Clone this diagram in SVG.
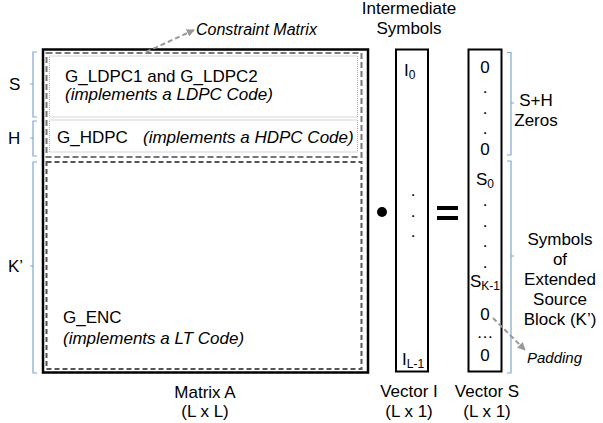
<svg xmlns="http://www.w3.org/2000/svg" width="603" height="423" viewBox="0 0 603 423">
<style>
text{font-family:"Liberation Sans",Arial,sans-serif;font-size:17px;fill:#000}
.it{font-style:italic}
.c{text-anchor:middle}
.sub{font-size:12px}
.br{fill:none;stroke:#7ea6d6;stroke-width:1.2}
.dotted{fill:none;stroke:#aaa;stroke-width:1;stroke-dasharray:1 1}
.vec{fill:#fff;stroke:#000;stroke-width:2}
.lead{fill:none;stroke:#999;stroke-width:2;stroke-dasharray:5 3}
</style>
<defs>
<marker id="ah" viewBox="0 0 10 10" refX="9" refY="5" markerWidth="4" markerHeight="4" orient="auto"><path d="M0,0 L10,5 L0,10 z" fill="#999"/></marker>
</defs>
<rect width="603" height="423" fill="#fff"/>

<g id="matrixA">
<rect x="43" y="49.5" width="325" height="323" fill="#fff" stroke="#000" stroke-width="2.5"/>
<text class="c" x="205" y="398">Matrix A</text>
<text class="c" x="205" y="417">(L x L)</text>
</g>

<g id="constraint">
<rect x="46.5" y="53" width="315" height="104" fill="none" stroke="#777" stroke-width="2" stroke-dasharray="6 3"/>
<rect class="dotted" x="49.5" y="56" width="308" height="61"/>
<rect class="dotted" x="49.5" y="120" width="308" height="32"/>
<text x="65" y="82">G_LDPC1 and G_LDPC2</text>
<text class="it" x="65" y="100">(implements a LDPC Code)</text>
<text x="57" y="143">G_HDPC</text>
<text class="it" x="143" y="143">(implements a HDPC Code)</text>
</g>

<g id="genc">
<rect x="46.5" y="162" width="315" height="207" fill="none" stroke="#555" stroke-width="2" stroke-dasharray="5 3"/>
<text x="63" y="323">G_ENC</text>
<text class="it" x="63" y="344">(implements a LT Code)</text>
</g>

<g id="constraintLabel">
<text class="it" x="196" y="35" style="font-size:16px">Constraint Matrix</text>
</g>

<g id="vectorI">
<text class="c" x="409" y="14">Intermediate</text>
<text class="c" x="409" y="34">Symbols</text>
<rect class="vec" x="396" y="49.5" width="32" height="322"/>
<text x="404" y="76">I<tspan class="sub" dy="3">0</tspan></text>
<text class="c" x="413" y="196">.</text>
<text class="c" x="413" y="217">.</text>
<text class="c" x="413" y="237">.</text>
<text x="402" y="365">I<tspan class="sub" dy="3">L-1</tspan></text>
<text class="c" x="409" y="397">Vector I</text>
<text class="c" x="409" y="417">(L x 1)</text>
</g>

<g id="operators">
<circle cx="382" cy="212" r="5" fill="#000"/>
<rect x="437" y="206" width="21" height="4" fill="#000"/>
<rect x="437" y="216" width="21" height="4" fill="#000"/>
</g>

<g id="vectorS">
<rect class="vec" x="468.5" y="49.5" width="33" height="322"/>
<text class="c" x="485" y="73">0</text>
<text class="c" x="485" y="93">.</text>
<text class="c" x="485" y="114">.</text>
<text class="c" x="485" y="134">.</text>
<text class="c" x="485" y="155">0</text>
<text x="476" y="185">S<tspan class="sub" dy="3">0</tspan></text>
<text class="c" x="485" y="206">.</text>
<text class="c" x="485" y="227">.</text>
<text class="c" x="485" y="247">.</text>
<text class="c" x="485" y="268">.</text>
<text x="470" y="287">S<tspan class="sub" dy="3">K-1</tspan></text>
<text class="c" x="485" y="320">0</text>
<text class="c" x="485" y="338">…</text>
<text class="c" x="485" y="361">0</text>
<text class="c" x="487" y="397">Vector S</text>
<text class="c" x="487" y="417">(L x 1)</text>
</g>

<g id="leftBraces">
<path class="br" d="M37,52 H33 V117 H37 M33,84 H30"/>
<text x="9" y="90">S</text>
<path class="br" d="M37,121 H33 V156 H37 M33,138 H30"/>
<text x="8" y="144">H</text>
<path class="br" d="M37,162 H33 V373 H37 M33,266 H30"/>
<text x="8" y="272">K’</text>
</g>

<g id="rightBraces">
<path class="br" d="M507,52.5 H511 V155 H507 M511,103 H514"/>
<text class="c" x="536" y="106">S+H</text>
<text class="c" x="536" y="126">Zeros</text>
<path class="br" d="M507,161 H511 V373 H507 M511,256 H514"/>
<text class="c" x="560" y="245">Symbols</text>
<text class="c" x="560" y="265">of</text>
<text class="c" x="560" y="285">Extended</text>
<text class="c" x="560" y="305">Source</text>
<text class="c" x="560" y="325">Block (K’)</text>
<text class="it" x="527" y="363" style="font-size:15px">Padding</text>
</g>

<g id="connectors">
<path class="lead" d="M146,52 L194,30" marker-end="url(#ah)"/>
<path class="lead" d="M493,318 L525,350" marker-end="url(#ah)"/>
</g>
</svg>
